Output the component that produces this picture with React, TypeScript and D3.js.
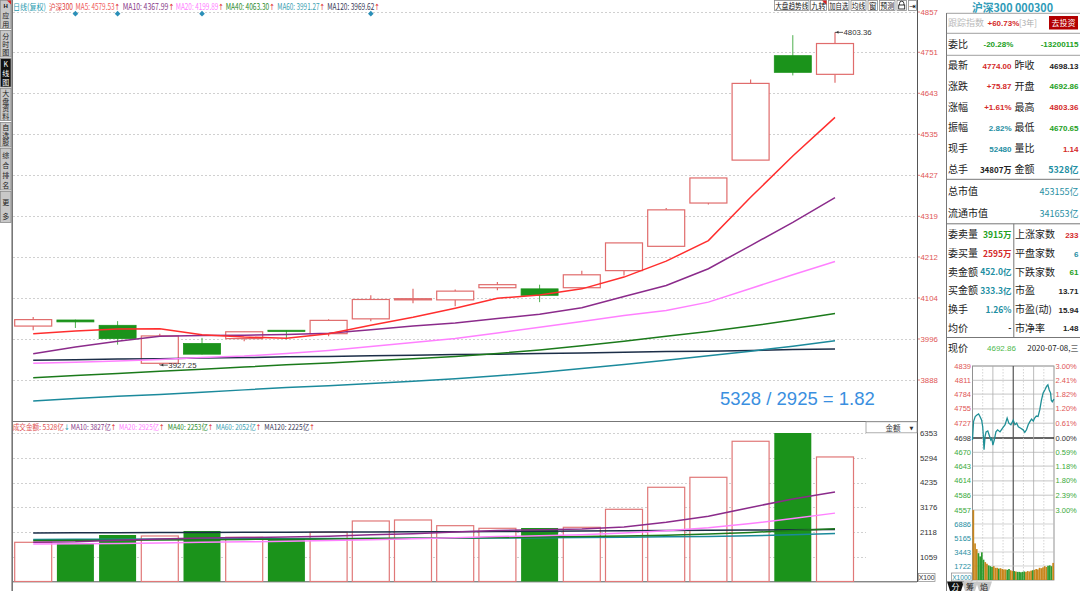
import React from 'react';
import * as d3 from 'd3';

const CN = '"Noto Sans CJK SC", "Noto Sans", sans-serif';
const NUM = '"Liberation Sans", "DejaVu Sans", sans-serif';
const ARW = '"DejaVu Sans", sans-serif';

// daily candles, 20 sessions
const openPx = [4030, 4046, 4032, 3932, 3984, 3997, 4019, 4010, 4049, 4099, 4099, 4131, 4128, 4131, 4176, 4240, 4354, 4467, 4742, 4692.86];
const closePx = [4047, 4041, 3997, 4004, 3956, 4015, 4016, 4045, 4100, 4102, 4122, 4139, 4111, 4165, 4249, 4336, 4420, 4669, 4698.13, 4774.0];
const highPx = [4054, 4047, 4043, 4010, 3999, 4016, 4019, 4048, 4111, 4128, 4126, 4146, 4139, 4176, 4249, 4341, 4420, 4679, 4796, 4803.36];
const lowPx = [4019, 4025, 3981, 3927.25, 3955, 3990, 3995, 4003, 4043, 4090, 4082, 4124, 4093, 4131, 4163, 4240, 4350, 4467, 4690, 4670.65];

// moving averages of the index
const ma5 = [4010, 4017, 4022, 4023, 4007, 4001, 3998, 4010, 4032, 4053, 4077, 4103, 4112, 4128, 4159, 4201, 4255, 4369, 4478, 4579.53];
const ma10 = [3957, 3975, 3990, 4003, 4005, 4006, 4008, 4011, 4020, 4030, 4038, 4050, 4061, 4078, 4108, 4137, 4181, 4242, 4303, 4367.99];
const ma20 = [3932, 3935, 3938, 3942, 3947, 3951, 3958, 3966, 3976, 3987, 3997, 4012, 4027, 4042, 4058, 4071, 4093, 4129, 4165, 4199.89];
const ma40 = [3894, 3900, 3905, 3911, 3916, 3922, 3928, 3933, 3939, 3944, 3950, 3958, 3967, 3978, 3990, 4003, 4016, 4030, 4046, 4063.3];
const ma60 = [3833, 3839, 3845, 3850, 3856, 3862, 3868, 3873, 3879, 3885, 3891, 3899, 3908, 3918, 3929, 3940, 3952, 3964, 3977, 3991.27];
const ma120 = [3940, 3941, 3943, 3944, 3946, 3947, 3949, 3950, 3952, 3953, 3955, 3956, 3958, 3959, 3961, 3963, 3964, 3966, 3968, 3969.62];
const priceTicks = [4857, 4751, 4643, 4535, 4427, 4319, 4212, 4104, 3996, 3888];
const markerIdx = [1, 2, 4, 8];

// turnover (亿)
const amount = [1677, 1634, 1990, 1947, 2161, 1891, 1831, 2105, 2589, 2631, 2388, 2276, 2289, 2319, 3089, 4031, 4458, 5999, 6353, 5328];
const amtMa10 = [1680, 1700, 1760, 1820, 1860, 1880, 1900, 1940, 2000, 2046, 2117, 2181, 2211, 2248, 2330, 2530, 2790, 3170, 3530, 3827];
const amtMa20 = [1600, 1610, 1630, 1650, 1680, 1700, 1720, 1750, 1790, 1830, 1870, 1920, 1960, 2000, 2070, 2170, 2300, 2480, 2700, 2925];
const amtMa40 = [1750, 1760, 1770, 1780, 1790, 1800, 1810, 1820, 1835, 1850, 1865, 1880, 1900, 1920, 1945, 1980, 2030, 2100, 2180, 2253];
const amtMa60 = [1800, 1805, 1810, 1815, 1820, 1825, 1830, 1835, 1840, 1845, 1850, 1860, 1870, 1880, 1895, 1910, 1930, 1960, 2000, 2052];
const amtMa120 = [2080, 2085, 2090, 2095, 2100, 2105, 2110, 2115, 2120, 2125, 2130, 2140, 2150, 2160, 2170, 2180, 2190, 2200, 2212, 2225];
const amountTicks = [6353, 5294, 4235, 3176, 2118, 1059];

// intraday mini chart
const intradayMin = [0, 3, 8, 13, 18, 22, 27, 30, 32, 34, 37, 40, 45, 49, 54, 57, 60, 64, 69, 74, 81, 88, 96, 102, 107, 113, 120, 125, 130, 135, 142, 149, 154, 159, 164, 169, 174, 179, 183, 188, 193, 198, 203, 208, 213, 218, 222, 226, 230, 232, 235, 240];
const intradayPx = [4694, 4730, 4740, 4743, 4745, 4740, 4733, 4720, 4701, 4675, 4701, 4710, 4712, 4704, 4694, 4697, 4684, 4694, 4710, 4714, 4710, 4717, 4724, 4737, 4727, 4724, 4733, 4724, 4727, 4720, 4717, 4714, 4709, 4714, 4724, 4730, 4735, 4731, 4737, 4741, 4740, 4753, 4772, 4786, 4792, 4799, 4802, 4792, 4786, 4772, 4769, 4774];
const miniVol = [8600, 4500, 3800, 3300, 2900, 3400, 2500, 2200, 2000, 1800, 1700, 1600, 1700, 1500, 1500, 1400, 1450, 1350, 1300, 1300, 1250, 1350, 1200, 1100, 1100, 1050, 1000, 1000, 950, 1000, 1050, 1000, 1100, 1050, 1150, 1200, 1250, 1350, 1300, 1500, 1450, 1550, 1700, 1600, 1750, 1800, 1700, 2100];
const miniPxTicks = [4839, 4811, 4784, 4755, 4727, 4698, 4670, 4643, 4614, 4586, 4557];
const miniPctTicks = ['3.00%', '2.41%', '1.82%', '1.20%', '0.61%', '0.00%', '0.59%', '1.18%', '1.80%', '2.39%', '3.00%'];
const miniVolTicks = [6886, 5165, 3443, 1722];

// quote panel
const quoteL = ['最新', '涨跌', '涨幅', '振幅', '现手', '总手'];
const quoteLV = ['4774.00', '+75.87', '+1.61%', '2.82%', '52480', '34807万'];
const quoteR = ['昨收', '开盘', '最高', '最低', '量比', '金额'];
const quoteRV = ['4698.13', '4692.86', '4803.36', '4670.65', '1.14', '5328亿'];
const capL = ['总市值', '流通市值'];
const capV = ['453155亿', '341653亿'];
const bookL = ['委卖量', '委买量', '卖金额', '买金额', '换手', '均价'];
const bookLV = ['3915万', '2595万', '452.0亿', '333.3亿', '1.26%', '-'];
const bookR = ['上涨家数', '平盘家数', '下跌家数', '市盈', '市盈(动)', '市净率'];
const bookRV = ['233', '6', '61', '13.71', '15.94', '1.48'];

const sideLabels = ['应用', '分时图', 'K线图', '大盘资料', '自选股', '综合排名', '更多'];
const toolLabels = ['大盘趋势线', '九转', '加自选', '均线', '窗', '预测', '', '⇥'];

const RED = '#d42a2a';
const GRN = '#22a022';
const TEAL = '#1f8fa3';
const BLK = '#222';

const quoteLC = [RED, RED, RED, TEAL, TEAL, BLK];
const quoteRC = [BLK, GRN, RED, GRN, RED, TEAL];
const bookLC = [GRN, RED, TEAL, TEAL, TEAL, BLK];
const bookRC = [RED, TEAL, GRN, BLK, BLK, BLK];

export default function App() {
  const n = openPx.length;
  const xC = d3.scaleLinear().domain([0, n - 1]).range([33.2, 835]);
  const yP = d3.scaleLinear().domain([3888, 4857]).range([380, 12]);
  const yV = d3.scaleLinear().domain([0, 6353]).range([581.5, 433]);
  const bodyW = 37;
  const upStroke = '#e06c6c';
  const downFill = '#1b931b';

  const pLine = d3.line<number>().x((_, i) => xC(i)).y((d) => yP(d));
  const vLine = d3.line<number>().x((_, i) => xC(i)).y((d) => yV(d));

  const priceMas = [
    { d: ma120, c: '#1c2e48' },
    { d: ma60, c: '#1b8a9c' },
    { d: ma40, c: '#1b7a1b' },
    { d: ma20, c: '#ff80ff' },
    { d: ma10, c: '#8b2b8b' },
    { d: ma5, c: '#ff2e2e' },
  ];
  const amtMas = [
    { d: amtMa120, c: '#1c2e48' },
    { d: amtMa60, c: '#1b8a9c' },
    { d: amtMa40, c: '#1b7a1b' },
    { d: amtMa20, c: '#ff80ff' },
    { d: amtMa10, c: '#8b2b8b' },
  ];

  // mini chart scales
  const xM = d3.scaleLinear().domain([0, 240]).range([972.5, 1054]);
  const yM = d3.scaleLinear().domain([4557, 4839]).range([510, 366]);
  const yMV = d3.scaleLinear().domain([0, 6886]).range([580, 524]);
  const interp = d3.scaleLinear().domain(intradayMin).range(intradayPx);
  const miniLine = d3.line<number>().x((_, i) => xM(intradayMin[i])).y((d) => yM(d));
  const bucket = 240 / miniVol.length;

  const header = [
    { t: '日线(复权)', x: 13, w: 33, c: '#1f9bb0', a: '', ac: '' },
    { t: '沪深300', x: 49, w: 24, c: '#e03c3c', a: '', ac: '' },
    { t: 'MA5: 4579.53', x: 75.5, w: 44.5, c: '#f05a5a', a: '↑', ac: '#e03030' },
    { t: 'MA10: 4367.99', x: 122.7, w: 51.5, c: '#8a3a8a', a: '↑', ac: '#e03030' },
    { t: 'MA20: 4199.89', x: 175.7, w: 48, c: '#ff80ff', a: '↑', ac: '#e03030' },
    { t: 'MA40: 4063.30', x: 225.7, w: 49, c: '#2a8a2a', a: '↑', ac: '#e03030' },
    { t: 'MA60: 3991.27', x: 277.3, w: 47.5, c: '#3aa0b2', a: '↑', ac: '#e03030' },
    { t: 'MA120: 3969.62', x: 327.3, w: 52.5, c: '#3a3a58', a: '↑', ac: '#e03030' },
  ];
  const volHeader = [
    { t: '成交金额: 5328亿', x: 12.7, w: 56.8, c: '#e05050', a: '↓', ac: '#1f9bb0' },
    { t: 'MA10: 3827亿', x: 70.7, w: 45.5, c: '#8a3a8a', a: '↑', ac: '#e03030' },
    { t: 'MA20: 2925亿', x: 119, w: 45.5, c: '#ff80ff', a: '↑', ac: '#e03030' },
    { t: 'MA40: 2253亿', x: 167.7, w: 45.5, c: '#2a8a2a', a: '↑', ac: '#e03030' },
    { t: 'MA60: 2052亿', x: 215.7, w: 45.5, c: '#3aa0b2', a: '↑', ac: '#e03030' },
    { t: 'MA120: 2225亿', x: 264.3, w: 50.5, c: '#3a3a58', a: '↑', ac: '#e03030' },
  ];

  const sideSpans = [[0, 29], [30, 57.5], [58, 87.5], [88, 121], [122, 147.5], [148, 190.5], [191, 223]];
  const toolSpans = [[774, 809.5], [810, 827], [828, 849.5], [850.5, 866.5], [867.5, 878], [879, 895.5], [896.5, 907], [908, 917]];

  const rowY = [68.5, 89.3, 110.2, 130.8, 151.5, 172.5];
  const bookY = [237.5, 256.8, 275.2, 293.6, 312.8, 331];

  return (
    <div style={{ position: 'absolute', left: 0, top: 0, width: 1080, height: 591 }}>
      <svg width={1080} height={591} style={{ display: 'block', background: '#fff' }}>
        <defs>
          <clipPath id="mainClip">
            <rect x={13} y={11} width={904} height={410} />
          </clipPath>
          <clipPath id="volClip">
            <rect x={13} y={433} width={904} height={149} />
          </clipPath>
        </defs>

        {/* left sidebar */}
        {sideLabels.map((lab, i) => {
          const [a, b] = sideSpans[i];
          const active = i === 2;
          const chars = lab.split('');
          const icon = i === 0;
          const cnt = chars.length + (icon ? 1 : 0);
          const step = (b - a) / (cnt + 0.3);
          return (
            <g key={lab}>
              <rect x={0.5} y={a + 0.5} width={10.5} height={b - a - 1} fill={active ? '#111' : '#c8c8c8'} stroke="#8a8a8a" strokeWidth={0.8} />
              {icon && <polygon points={`7,${a + 0.5} 11,${a + 0.5} 11,${a + 4.5}`} fill="#e02020" />}
              {icon && <text x={5.7} y={a + step * 0.95} fontSize={6} fontWeight="bold" textAnchor="middle" fill="#111" fontFamily={NUM}>H</text>}
              {chars.map((ch, j) => (
                <text key={j} x={5.7} y={a + step * (j + (icon ? 1 : 0) + 1) + 0.3} fontSize={7} textAnchor="middle" fill={active ? '#fff' : '#222'} fontFamily={CN}>
                  {ch}
                </text>
              ))}
            </g>
          );
        })}
        <line x1={12.2} x2={12.2} y1={0} y2={591} stroke="#777" strokeWidth={1.6} />

        {/* header text */}
        {header.map((h) => (
          <text key={h.t} x={h.x} y={9.5} fontSize={8.5} fill={h.c} fontFamily={CN} textLength={h.w} lengthAdjust="spacingAndGlyphs">
            {h.t}
            {h.a && <tspan fill={h.ac} fontFamily={ARW}>{h.a}</tspan>}
          </text>
        ))}

        {/* toolbar buttons */}
        {toolLabels.map((t, i) => {
          const [a, b] = toolSpans[i];
          const isArrow = t === '⇥';
          return (
            <g key={i}>
              <rect x={a + 0.5} y={0.5} width={b - a - 1} height={10} fill="#fff" stroke="#8a8a8a" strokeWidth={0.8} />
              {i === 1 && <polygon points={`${b - 5},0.5 ${b - 0.5},0.5 ${b - 0.5},5`} fill="#e02020" />}
              {t && (
                <text
                  x={(a + b) / 2}
                  y={8.6}
                  fontSize={isArrow ? 8 : 7.8}
                  textAnchor="middle"
                  fill="#111"
                  fontFamily={isArrow ? ARW : CN}
                  textLength={isArrow ? undefined : Math.min(b - a - 2.5, t.length * 7.6)}
                  lengthAdjust="spacingAndGlyphs"
                >
                  {t}
                </text>
              )}
              {i === 6 && (
                <g stroke="#222" strokeWidth={0.9} fill="none">
                  <path d={`M ${a + 3} 5 v -1.6 a 2.2 2.2 0 0 1 4.4 0 v 1.6`} />
                  <rect x={a + 2.2} y={5} width={6} height={4} fill="#fff" />
                </g>
              )}
            </g>
          );
        })}

        {/* price grid */}
        {priceTicks.map((t) => (
          <g key={t}>
            <line x1={13} x2={917} y1={Math.round(yP(t)) + 0.5} y2={Math.round(yP(t)) + 0.5} stroke="#c4c4c4" strokeDasharray="2,2" strokeWidth={0.8} />
            <line x1={917} x2={920} y1={yP(t)} y2={yP(t)} stroke="#e06060" strokeWidth={0.8} />
            <text x={920.5} y={yP(t) + 2.8} fontSize={7.8} fill="#e05555" fontFamily={NUM}>{t}</text>
          </g>
        ))}

        {/* event markers */}
        {markerIdx.map((i) => (
          <rect key={i} x={xC(i) - 2} y={11.7} width={4} height={4} transform={`rotate(45 ${xC(i)} 13.7)`} fill="#2a8fb8" />
        ))}

        {/* candles */}
        <g clipPath="url(#mainClip)">
          {openPx.map((o, i) => {
            const c = closePx[i];
            const up = c >= o;
            const x = xC(i);
            const top = yP(Math.max(o, c));
            const bot = yP(Math.min(o, c));
            const h = Math.max(1, bot - top);
            if (up) {
              return (
                <g key={i} stroke={upStroke} strokeWidth={1.2}>
                  <line x1={x} x2={x} y1={yP(highPx[i])} y2={top} />
                  <line x1={x} x2={x} y1={top + h} y2={yP(lowPx[i])} />
                  <rect x={x - bodyW / 2} y={top} width={bodyW} height={h} fill={h < 2 ? upStroke : '#fff'} />
                </g>
              );
            }
            return (
              <g key={i}>
                <line x1={x} x2={x} y1={yP(highPx[i])} y2={yP(lowPx[i])} stroke="#4fb04f" strokeWidth={1} />
                <rect x={x - bodyW / 2} y={top} width={bodyW} height={h} fill={downFill} stroke={downFill} strokeWidth={0.8} />
              </g>
            );
          })}
          {priceMas.map((m, k) => (
            <path key={k} d={pLine(m.d) || ''} fill="none" stroke={m.c} strokeWidth={1.5} />
          ))}
        </g>

        {/* high / low labels */}
        <g fontFamily={NUM} fontSize={7.8} fill="#333">
          <line x1={xC(19)} x2={xC(19) + 8} y1={yP(4803.36)} y2={yP(4803.36)} stroke="#333" strokeWidth={0.8} />
          <polygon points={`${xC(19) + 1},${yP(4803.36)} ${xC(19) + 3.5},${yP(4803.36) - 1.5} ${xC(19) + 3.5},${yP(4803.36) + 1.5}`} fill="#333" />
          <text x={xC(19) + 8.5} y={yP(4803.36) + 2.8}>4803.36</text>
          <line x1={xC(3)} x2={xC(3) + 8} y1={yP(3927.25)} y2={yP(3927.25)} stroke="#333" strokeWidth={0.8} />
          <polygon points={`${xC(3) + 1},${yP(3927.25)} ${xC(3) + 3.5},${yP(3927.25) - 1.5} ${xC(3) + 3.5},${yP(3927.25) + 1.5}`} fill="#333" />
          <text x={xC(3) + 8.5} y={yP(3927.25) + 2.8}>3927.25</text>
        </g>

        {/* ratio note */}
        <text x={720} y={405} fontSize={18.5} fill="#3a8fe0" fontFamily={NUM}>5328 / 2925 = 1.82</text>

        {/* panel separators */}
        <line x1={13} x2={917} y1={421.5} y2={421.5} stroke="#777" strokeWidth={1} />
        <line x1={13} x2={917} y1={581.8} y2={581.8} stroke="#555" strokeWidth={1} />
        <line x1={917.5} x2={917.5} y1={0} y2={582} stroke="#555" strokeWidth={1} />
        <line x1={946.5} x2={946.5} y1={13} y2={591} stroke="#777" strokeWidth={1} />

        {/* volume header */}
        {volHeader.map((h) => (
          <text key={h.t} x={h.x} y={430.3} fontSize={8} fill={h.c} fontFamily={CN} textLength={h.w} lengthAdjust="spacingAndGlyphs">
            {h.t}
            <tspan fill={h.ac} fontFamily={ARW}>{h.a}</tspan>
          </text>
        ))}
        <rect x={866} y={421.8} width={51} height={11} fill="#fff" stroke="#999" strokeWidth={0.8} />
        <text x={893} y={430.5} fontSize={7.5} textAnchor="middle" fill="#333" fontFamily={CN}>金额</text>
        <text x={911.5} y={429.5} fontSize={5} textAnchor="middle" fill="#333" fontFamily={ARW}>▼</text>

        {/* volume grid */}
        {amountTicks.map((t) => (
          <g key={t}>
            <line x1={13} x2={866} y1={Math.round(yV(t)) + 0.5} y2={Math.round(yV(t)) + 0.5} stroke="#c4c4c4" strokeDasharray="2,2" strokeWidth={0.8} />
            <text x={920} y={yV(t) + 2.8} fontSize={7.8} fill="#333" fontFamily={NUM}>{t}</text>
          </g>
        ))}
        <rect x={918.5} y={573.5} width={16.5} height={8} fill="#fff" stroke="#888" strokeWidth={0.7} />
        <text x={926.7} y={580} fontSize={6.8} textAnchor="middle" fill="#333" fontFamily={NUM}>X100</text>

        {/* volume bars */}
        <g clipPath="url(#volClip)">
          {amount.map((v, i) => {
            const up = closePx[i] >= openPx[i];
            const x = xC(i) - bodyW / 2;
            const y = yV(v);
            return up ? (
              <rect key={i} x={x} y={y} width={bodyW} height={yV(0) - y} fill="#fff" stroke="#e07878" strokeWidth={1.2} />
            ) : (
              <rect key={i} x={x} y={y} width={bodyW} height={yV(0) - y} fill={downFill} />
            );
          })}
          {amtMas.map((m, k) => (
            <path key={k} d={vLine(m.d) || ''} fill="none" stroke={m.c} strokeWidth={1.5} />
          ))}
        </g>

        {/* right panel title */}
        <text x={1012.5} y={12} fontSize={11.5} fontWeight="bold" textAnchor="middle" fill="#2f9bb8" fontFamily={CN} textLength={81} lengthAdjust="spacingAndGlyphs">
          沪深300 000300
        </text>
        <line x1={946.5} x2={1080} y1={13.3} y2={13.3} stroke="#888" strokeWidth={0.8} />
        <text x={948} y={26} fontSize={9} fill="#bbb" fontFamily={CN}>跟踪指数</text>
        <text x={987.5} y={25.6} fontSize={8} fontWeight="bold" fill={RED} fontFamily={NUM}>+60.73%</text>
        <text x={1019} y={25.6} fontSize={8} fill="#aaa" fontFamily={CN}>[3年]</text>
        <rect x={1049} y={16} width={29} height={13.5} fill="#b30000" />
        <text x={1063.5} y={25.8} fontSize={8} textAnchor="middle" fill="#fff" fontFamily={CN}>去投资</text>
        <line x1={946.5} x2={1080} y1={33.3} y2={33.3} stroke="#888" strokeWidth={0.8} />
        <text x={948} y={48} fontSize={10} fill={BLK} fontFamily={CN}>委比</text>
        <text x={983.5} y={47.3} fontSize={8} fontWeight="bold" fill={GRN} fontFamily={NUM}>-20.28%</text>
        <text x={1078.5} y={47.3} fontSize={8} fontWeight="bold" fill={GRN} textAnchor="end" fontFamily={NUM}>-13200115</text>
        <line x1={946.5} x2={1080} y1={55.3} y2={55.3} stroke="#888" strokeWidth={0.8} />

        {quoteL.map((l, i) => (
          <g key={l}>
            <text x={948} y={rowY[i] + 0.5} fontSize={10} fill={BLK} fontFamily={CN}>{l}</text>
            <text x={1011.5} y={rowY[i]} fontSize={8} fontWeight="bold" fill={quoteLC[i]} textAnchor="end" fontFamily={i === 5 ? CN : NUM}>{quoteLV[i]}</text>
            <text x={1014.5} y={rowY[i] + 0.5} fontSize={10} fill={BLK} fontFamily={CN}>{quoteR[i]}</text>
            <text x={1078.5} y={rowY[i]} fontSize={i === 5 ? 9 : 8} fontWeight="bold" fill={quoteRC[i]} textAnchor="end" fontFamily={i === 5 ? CN : NUM}>{quoteRV[i]}</text>
          </g>
        ))}
        <line x1={946.5} x2={1080} y1={179.3} y2={179.3} stroke="#777" strokeWidth={1} />
        {capL.map((l, i) => (
          <g key={l}>
            <text x={948} y={195 + i * 22} fontSize={10} fill={BLK} fontFamily={CN}>{l}</text>
            <text x={1078.5} y={194.5 + i * 22} fontSize={9} fill={TEAL} textAnchor="end" fontFamily={CN}>{capV[i]}</text>
          </g>
        ))}
        <line x1={946.5} x2={1080} y1={223.8} y2={223.8} stroke="#777" strokeWidth={1} />
        <line x1={1013.8} x2={1013.8} y1={223.8} y2={337.5} stroke="#777" strokeWidth={1} />
        {bookL.map((l, i) => (
          <g key={l}>
            <text x={948} y={bookY[i] + 0.5} fontSize={10} fill={BLK} fontFamily={CN}>{l}</text>
            <text x={1011.5} y={bookY[i]} fontSize={8.5} fontWeight="bold" fill={bookLC[i]} textAnchor="end" fontFamily={CN}>{bookLV[i]}</text>
            <text x={1015} y={bookY[i] + 0.5} fontSize={10} fill={BLK} fontFamily={CN}>{bookR[i]}</text>
            <text x={1078.5} y={bookY[i]} fontSize={8} fontWeight="bold" fill={bookRC[i]} textAnchor="end" fontFamily={NUM}>{bookRV[i]}</text>
          </g>
        ))}
        <line x1={946.5} x2={1080} y1={337.5} y2={337.5} stroke="#777" strokeWidth={1} />
        <text x={948} y={351.5} fontSize={10} fill={BLK} fontFamily={CN}>现价</text>
        <text x={987} y={351} fontSize={8} fill="#4cb84c" fontFamily={NUM}>4692.86</text>
        <text x={1078.5} y={351} fontSize={8} fill={BLK} textAnchor="end" fontFamily={CN}>2020-07-08,三</text>

        {/* mini intraday chart */}
        <rect x={972.5} y={366} width={81.5} height={214} fill="none" stroke="#777" strokeWidth={0.8} />
        {miniPxTicks.map((t, i) => {
          const y = yM(t);
          const col = i < 5 ? '#e05555' : i === 5 ? '#333' : '#3aaa3a';
          return (
            <g key={i}>
              <line x1={972.5} x2={1054} y1={y} y2={y} stroke={i === 5 ? '#333' : '#b8b8b8'} strokeWidth={i === 5 ? 1.3 : 0.8} />
              <text x={971} y={y + 2.6} fontSize={7.5} fill={col} textAnchor="end" fontFamily={NUM}>{t}</text>
              <text x={1055.5} y={y + 2.6} fontSize={7.5} fill={col} fontFamily={NUM}>{miniPctTicks[i]}</text>
            </g>
          );
        })}
        {[30, 90, 150, 210].map((m) => (
          <line key={m} x1={xM(m)} x2={xM(m)} y1={366} y2={580} stroke="#c8c8c8" strokeDasharray="1.5,1.5" strokeWidth={0.8} />
        ))}
        {[60, 120, 180].map((m) => (
          <line key={m} x1={xM(m)} x2={xM(m)} y1={366} y2={580} stroke={m === 120 ? '#555' : '#aaa'} strokeWidth={m === 120 ? 1.2 : 0.8} />
        ))}
        {miniVolTicks.map((t) => (
          <g key={t}>
            <line x1={972.5} x2={1054} y1={yMV(t)} y2={yMV(t)} stroke="#c0c0c0" strokeWidth={0.7} />
            <text x={971} y={yMV(t) + 2.6} fontSize={7.5} fill={TEAL} textAnchor="end" fontFamily={NUM}>{t}</text>
          </g>
        ))}
        {miniVol.map((v, k) => {
          const m0 = k * bucket;
          const up = interp(m0 + bucket) >= interp(m0);
          const y = Math.max(510, yMV(v));
          return (
            <rect key={k} x={xM(m0)} y={y} width={xM(bucket) - xM(0)} height={580 - y} fill={up ? '#c8861c' : '#2f9a2f'} />
          );
        })}
        <path d={miniLine(intradayPx) || ''} fill="none" stroke="#1f8f96" strokeWidth={1.3} />
        <rect x={951.5} y={573} width={20.5} height={8} fill="#fff" stroke="#888" strokeWidth={0.7} />
        <text x={961.7} y={579.6} fontSize={6.6} textAnchor="middle" fill={TEAL} fontFamily={NUM}>X1000</text>

        {/* bottom tabs */}
        <polygon points="947,581.5 964,581.5 961,591 950,591" fill="#111" />
        <text x={955.5} y={589.8} fontSize={8} textAnchor="middle" fill="#fff" fontFamily={CN}>分</text>
        <polygon points="962,581.5 978,581.5 975,591 965,591" fill="#c8c8c8" />
        <text x={970} y={589.8} fontSize={8} textAnchor="middle" fill="#222" fontFamily={CN}>筹</text>
        <polygon points="976,581.5 992,581.5 989,591 979,591" fill="#c8c8c8" />
        <text x={984} y={589.8} fontSize={8} textAnchor="middle" fill="#222" fontFamily={CN}>焰</text>
      </svg>
    </div>
  );
}
